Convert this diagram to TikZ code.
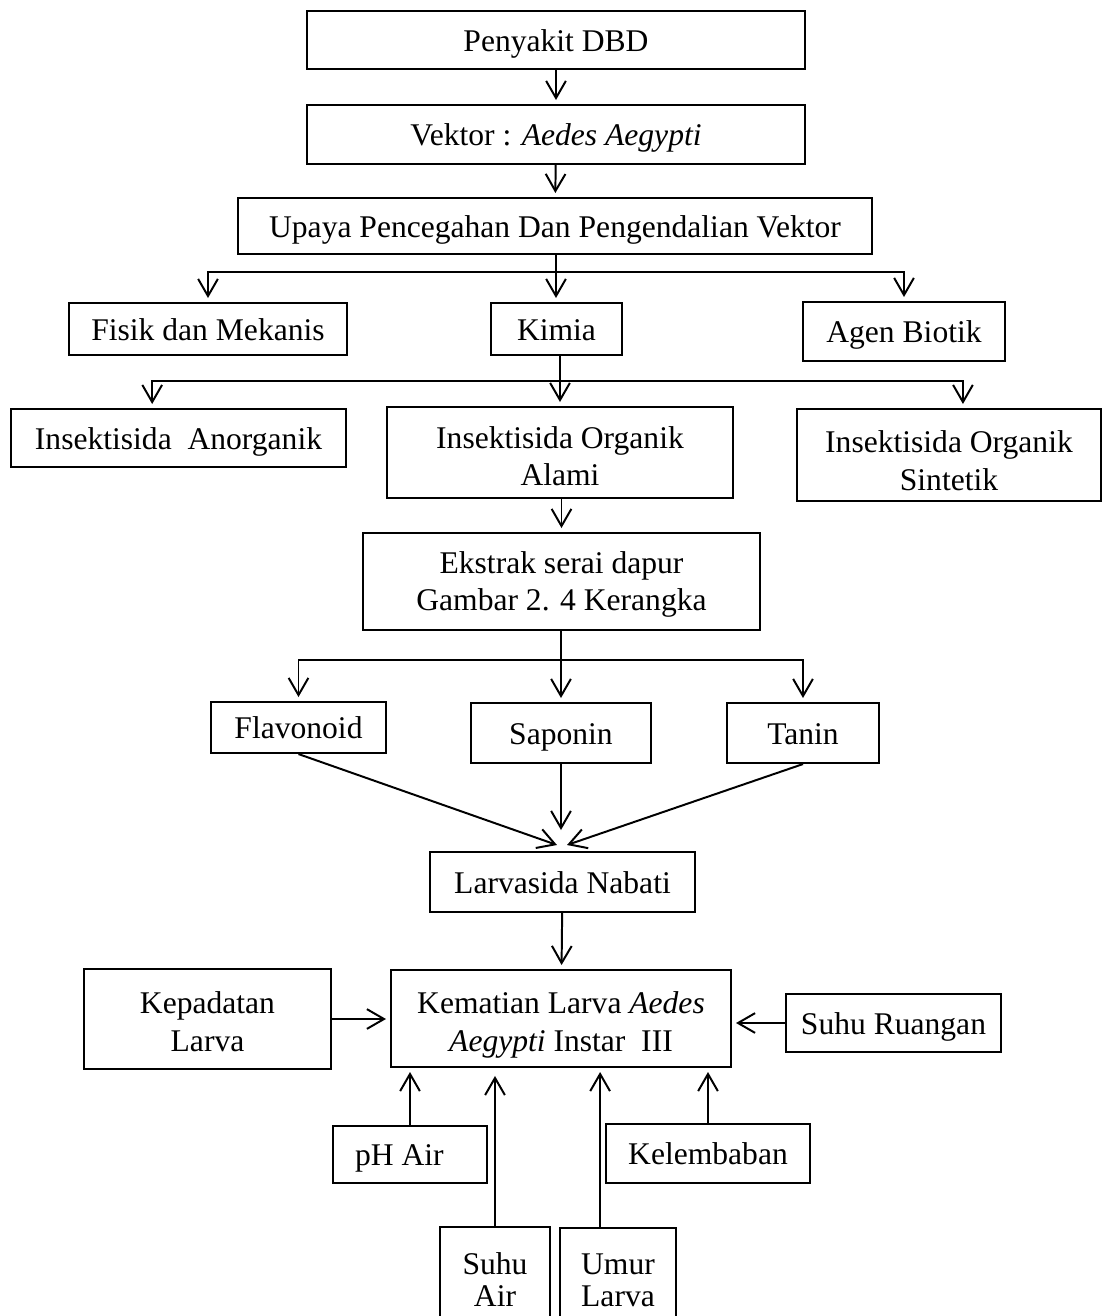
\documentclass[tikz,border=0pt]{standalone}
\usepackage{fontspec}
\setmainfont{Liberation Serif}
\usetikzlibrary{arrows.meta}

\begin{document}
\begin{tikzpicture}[
  x=0.38pt, y=-0.38pt,
  kotak/.style 2 args={draw, line width=0.8pt, inner sep=0pt,
                       minimum width=#1*0.38pt, minimum height=#2*0.38pt,
                       text height=10pt, text depth=1.6pt,
                       align=center, font=\fontsize{12}{14.4}\selectfont},
  duabaris/.style={text height=#1},
  duabaris/.default=26.3pt,
  panah/.style={-{Straight Barb[length=6.5pt,width=7.5pt]}, line width=0.75pt,
                shorten >=1.5pt},
  garis/.style={line width=0.75pt},
]
\clip (0,0) rectangle (1108,1316);

% alur utama
\node[kotak={498}{58}] (dbd) at (556,40) {Penyakit DBD};
\node[kotak={498}{59}] (vektor) at (556,134.5) {Vektor : \textit{Aedes Aegypti}};
\node[kotak={634}{56}] (upaya) at (555,226) {Upaya Pencegahan Dan Pengendalian Vektor};

\node[kotak={278}{52}] (fisik) at (208,329) {Fisik dan Mekanis};
\node[kotak={131}{52}] (kimia) at (556.5,329) {Kimia};
\node[kotak={202}{59}] (agen) at (904,331.5) {Agen Biotik};

\node[kotak={335}{58}] (anorganik) at (178.5,438) {Insektisida\ \ Anorganik};
\node[kotak={346}{91}, duabaris=27pt] (alami) at (560,452.5) {Insektisida Organik\\Alami};
\node[kotak={304}{92}, duabaris=28.2pt] (sintetik) at (949,455) {Insektisida Organik\\Sintetik};

\node[kotak={397}{97}, duabaris=24pt] (ekstrak) at (561.5,581.5) {Ekstrak serai dapur\\Gambar 2. 4 Kerangka};

\node[kotak={175}{51}] (flavonoid) at (298.5,727.5) {Flavonoid};
\node[kotak={180}{60}] (saponin) at (561,733) {Saponin};
\node[kotak={152}{60}] (tanin) at (803,733) {Tanin};

\node[kotak={265}{60}] (larvasida) at (562.5,882) {Larvasida Nabati};
\node[kotak={340}{97}, duabaris] (kematian) at (561,1018.5)
  {Kematian Larva \textit{Aedes}\\\textit{Aegypti} Instar\ \ III};

% faktor luar
\node[kotak={247}{100}, duabaris=26pt] (kepadatan) at (207.5,1019) {Kepadatan\\Larva};
\node[kotak={215}{58}] (ruangan) at (893.5,1023) {Suhu Ruangan};
\node[kotak={154}{57}] (phair) at (410,1154.5) {pH Air\hspace{8pt}};
\node[kotak={204}{59}] (lembab) at (708,1153.5) {Kelembaban};
\node[kotak={110}{106}, duabaris=21.4pt,
      font=\fontsize{12}{12}\selectfont] (suhuair) at (495,1280) {Suhu\\Air};
\node[kotak={116}{104}, duabaris=21.4pt,
      font=\fontsize{12}{12}\selectfont] (umur) at (618,1280) {Umur\\Larva};

% titik cabang
\coordinate (cabang1) at (556,272);
\coordinate (cabang2) at (560,381);
\coordinate (cabang3) at (561,660);
\coordinate (temu1) at (557,845);
\coordinate (temu2) at (561,830);
\coordinate (temu3) at (567,845);

\draw[panah] (dbd) -- (vektor);
\draw[panah] (vektor) -- (upaya);

\draw[garis] (upaya.south -| cabang1) -- (cabang1);
\draw[panah] (cabang1) -| (fisik.north);
\draw[panah] (cabang1) -- (cabang1 |- kimia.north);
\draw[panah] (cabang1) -| (agen.north);

\draw[garis] (kimia.south -| cabang2) -- (cabang2);
\draw[panah] (cabang2) -| ([xshift=-10pt]anorganik.north);
\draw[panah] (cabang2) -- (cabang2 |- alami.north);
\draw[panah] (cabang2) -| ([xshift=5.3pt]sintetik.north);

\draw[panah] (alami.south -| ekstrak.north) -- (ekstrak.north);

\draw[garis] (ekstrak.south -| cabang3) -- (cabang3);
\draw[panah] (cabang3) -| (flavonoid.north);
\draw[panah] (cabang3) -- (cabang3 |- saponin.north);
\draw[panah] (cabang3) -| (tanin.north);

\draw[panah, shorten >=0pt] (flavonoid.south) -- (temu1);
\draw[panah, shorten >=0pt] (saponin.south) -- (temu2);
\draw[panah, shorten >=0pt] (tanin.south) -- (temu3);

\draw[panah] (larvasida) -- (kematian);
\draw[panah] (kepadatan.east) -- (kepadatan.east -| kematian.west);
\draw[panah] (ruangan.west) -- (ruangan.west -| kematian.east);
\draw[panah] (phair.north) -- (phair.north |- kematian.south);
\draw[panah, shorten >=3pt] (suhuair.north) -- (suhuair.north |- kematian.south);
\draw[panah] ([xshift=-6.8pt]umur.north) -- ([xshift=-6.8pt]umur.north |- kematian.south);
\draw[panah] (lembab.north) -- (lembab.north |- kematian.south);
\end{tikzpicture}
\end{document}
